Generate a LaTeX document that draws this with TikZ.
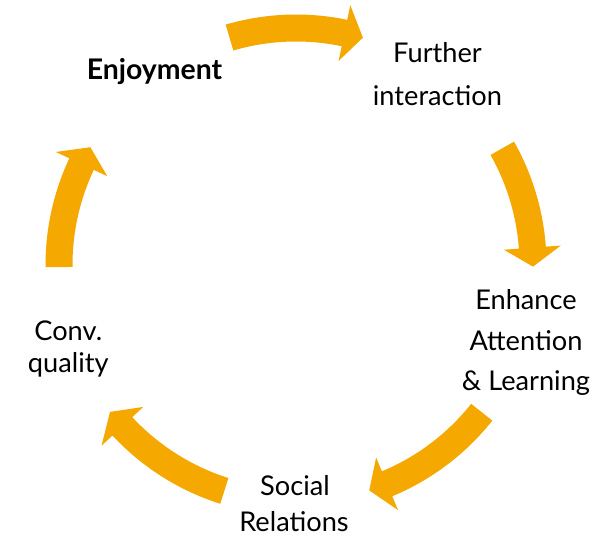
\documentclass[tikz,border=0pt]{standalone}
\usepackage{fontspec}
\setmainfont{Lato}
\definecolor{arrowor}{HTML}{F5A800}
\newcommand\cyclearrow[3]{%
  \fill[arrowor] (#1:250.5) arc[start angle=#1, end angle=#2, radius=250.5]
    -- (#2:265.5) -- (#3:237) -- (#2:208.5) -- (#2:223.5)
    arc[start angle=#2, end angle=#1, radius=223.5] -- cycle;}
\begin{document}
\begin{tikzpicture}[x=0.75pt,y=0.75pt,
  lbl/.style={anchor=base, inner sep=0pt, font=\fontsize{20.4}{24}\selectfont, text=black},
  lblb/.style={lbl, font=\fontsize{21.3}{24}\selectfont\bfseries}]
\useasboundingbox (-296,-272) rectangle (320,265);
% arrows
\cyclearrow{106.3}{78.2}{73.6}
\cyclearrow{29.5}{4.2}{-0.4}
\cyclearrow{-38.4}{-67.4}{-72.0}
\cyclearrow{-107.6}{-137.1}{-141.7}
\cyclearrow{180.5}{154.8}{150.2}
% labels
\node[lblb] (enj) at (-141.5,186) {Enjoyment};
\node[lbl] (fur1) at (141.5,203) {Further};
\node[lbl] (fur2) at (141.5,160) {interaction};
\node[lbl] (enh1) at (230,-44) {Enhance};
\node[lbl] (enh2) at (230,-85) {Attention};
\node[lbl] (enh3) at (230,-125) {\& Learning};
\node[lbl] (soc1) at (-1,-230) {Social};
\node[lbl] (soc2) at (-2,-266) {Relations};
\node[lbl] (con1) at (-227.7,-75) {Conv.};
\node[lbl] (con2) at (-227.7,-107) {quality};
\end{tikzpicture}
\end{document}
